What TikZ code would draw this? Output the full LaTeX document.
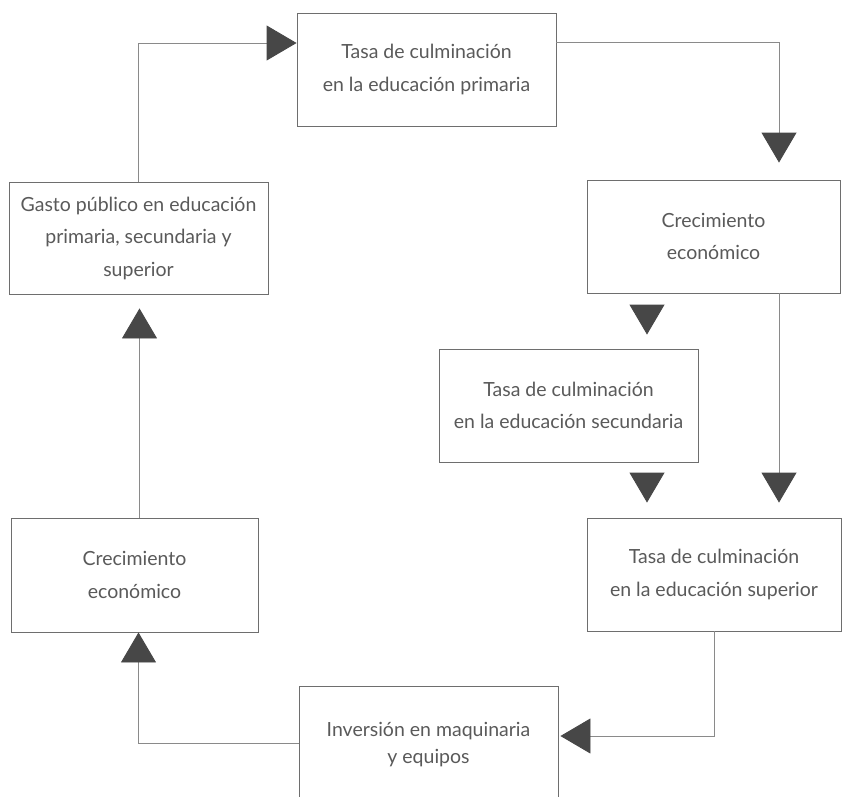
\documentclass[tikz,border=0pt]{standalone}
\usepackage{fontspec}
\setmainfont{Lato}
\usetikzlibrary{arrows.meta}
\definecolor{boxline}{HTML}{6E6E6E}
\definecolor{conline}{HTML}{8A8A8A}
\definecolor{tipfill}{HTML}{474747}
\definecolor{txt}{HTML}{5A5A5A}
\tikzset{
  box/.style={draw=boxline, line width=0.9pt, minimum width=#1, inner sep=0pt, align=center,
    text=txt, font=\fontsize{19.5}{32.5}\selectfont},
  conn/.style={draw=conline, line width=0.9pt,
    -{Triangle[length=30pt,width=35pt,fill=tipfill,color=tipfill]}},
}
\begin{document}
\begin{tikzpicture}[x=1pt,y=-1pt]
\useasboundingbox (0,0) rectangle (843,796);
\fill[white] (0,0) rectangle (843,796);
\node[box=259pt, minimum height=113pt] (b1) at (426.5,69.5) {Tasa de culminación\\en la educación primaria};
\node[box=259pt, minimum height=112pt] (b2) at (138.5,238) {Gasto público en educación\\primaria, secundaria y\\superior};
\node[box=253pt, minimum height=113pt] (b3) at (713.5,236.5) {Crecimiento\\económico};
\node[box=259pt, minimum height=113pt] (b4) at (568.5,405.5) {Tasa de culminación\\en la educación secundaria};
\node[box=254pt, minimum height=113pt] (b5) at (714,574.5) {Tasa de culminación\\en la educación superior};
\node[box=259pt, minimum height=120pt] (b6) at (428.5,746) {\raisebox{6pt}{\shortstack{Inversión en maquinaria\\[6pt]y equipos}}};
\node[box=247pt, minimum height=114pt] (b7) at (134.5,575) {Crecimiento\\económico};

% gasto -> primaria
\draw[conn] (b2.north) |- ([yshift=26.5pt]b1.west);
% primaria -> crecimiento (right)
\draw[conn, shorten >=17pt] ([yshift=27.5pt]b1.east) -| ([xshift=65.5pt]b3.north);
% crecimiento -> secundaria
\draw[conn, shorten <=12pt, shorten >=14pt] ([xshift=-66.5pt]b3.south) -- ([xshift=-66.5pt]b3.south |- b4.north);
% crecimiento -> superior
\draw[conn, shorten >=15pt] ([xshift=65.5pt]b3.south) -- ([xshift=65.5pt]b3.south |- b5.north);
% secundaria -> superior
\draw[conn, shorten <=11pt, shorten >=15pt] ([xshift=78.5pt]b4.south) -- ([xshift=78.5pt]b4.south |- b5.north);
% superior -> inversion
\draw[conn, shorten >=2pt] (b5.south) |- ([yshift=10pt]b6.east);
% inversion -> crecimiento (left)
\draw[conn] ([yshift=3pt]b6.west) -| ([xshift=4pt]b7.south);
% crecimiento (left) -> gasto
\draw[conn, shorten >=14pt] ([xshift=5pt]b7.north) -- ([xshift=5pt]b7.north |- b2.south);
\end{tikzpicture}
\end{document}
